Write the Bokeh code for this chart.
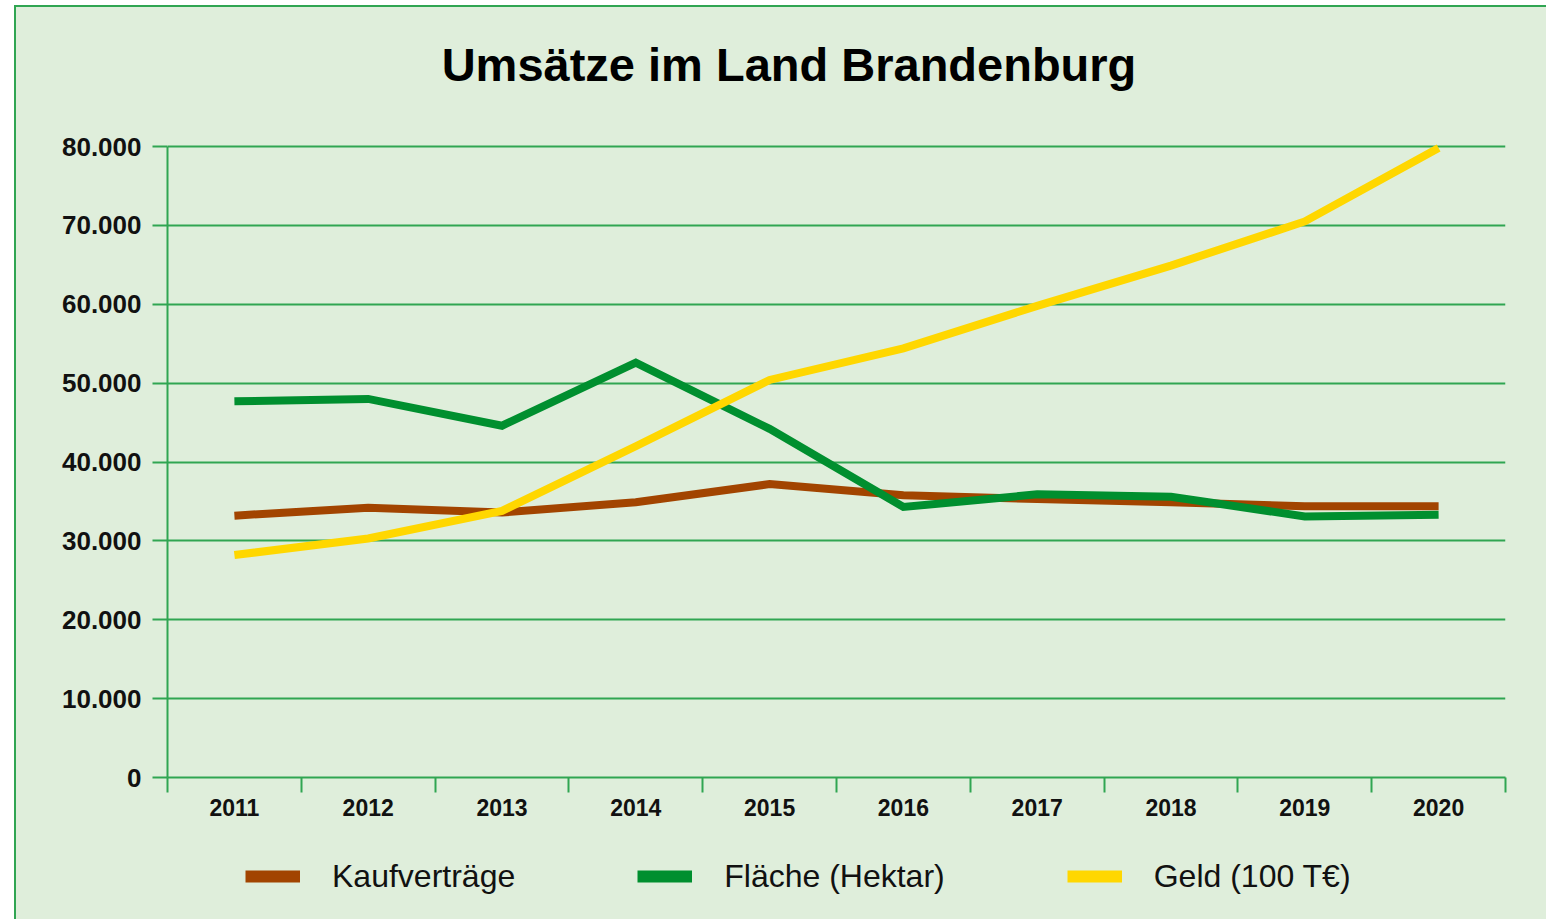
from bokeh.plotting import figure
from bokeh.layouts import column
from bokeh.models import Range1d, FixedTicker, Legend, LegendItem, ColumnDataSource, Label
from bokeh.embed import file_html
from bokeh.resources import INLINE

# ---- data ----
years = [2011, 2012, 2013, 2014, 2015, 2016, 2017, 2018, 2019, 2020]
kaufvertraege = [33200, 34200, 33600, 34900, 37200, 35800, 35300, 34900, 34400, 34400]
flaeche = [47700, 48000, 44600, 52600, 44200, 34300, 35900, 35600, 33100, 33300]
geld = [28200, 30300, 33800, 42000, 50400, 54400, 59800, 64900, 70500, 79800]

y_ticks = [0, 10000, 20000, 30000, 40000, 50000, 60000, 70000, 80000]
y_tick_labels = ["0", "10.000", "20.000", "30.000", "40.000", "50.000", "60.000", "70.000", "80.000"]

series_names = ["Kaufverträge", "Fläche (Hektar)", "Geld (100 T€)"]
series_colors = ["#a24400", "#008f2f", "#ffd700"]

title_text = "Umsätze im Land Brandenburg"

BG = "#dfeedb"
GRID = "#30a552"
FONT = "Liberation Sans"

src = ColumnDataSource(dict(year=years, k=kaufvertraege, f=flaeche, g=geld))
cols = ["k", "f", "g"]

# ---------------- main chart ----------------
p = figure(
    width=1530, height=825, title=None,
    output_backend="svg", toolbar_location=None,
    x_range=Range1d(years[0] - 0.5, years[-1] + 0.5),
    y_range=Range1d(0, 96990),          # headroom above 80.000 holds the title
    min_border_left=151, min_border_right=41,
    min_border_top=5, min_border_bottom=55,
)
p.background_fill_alpha = 0
p.border_fill_color = BG
p.outline_line_color = None

# grid
p.xgrid.visible = False
p.ygrid.ticker = FixedTicker(ticks=y_ticks)
p.ygrid.grid_line_color = GRID
p.ygrid.grid_line_width = 2

# y axis
ya = p.yaxis[0]
ya.ticker = FixedTicker(ticks=y_ticks)
ya.major_label_overrides = {t: l for t, l in zip(y_ticks, y_tick_labels)}
ya.bounds = (0, 80000)
ya.axis_line_color = GRID
ya.axis_line_width = 2
ya.major_tick_line_color = GRID
ya.major_tick_line_width = 2
ya.major_tick_out = 15
ya.major_tick_in = 0
ya.minor_tick_line_color = None
ya.major_label_standoff = 11
ya.major_label_text_font = FONT
ya.major_label_text_font_style = "bold"
ya.major_label_text_font_size = "26px"
ya.major_label_text_color = "#111111"

# x axis: labels at year centres, tick marks at category boundaries
xa = p.xaxis[0]
xa.ticker = FixedTicker(ticks=years, minor_ticks=[y - 0.5 for y in years] + [years[-1] + 0.5])
xa.axis_line_color = GRID
xa.axis_line_width = 2
xa.major_tick_line_color = None
xa.major_tick_out = 0
xa.major_tick_in = 0
xa.minor_tick_line_color = GRID
xa.minor_tick_line_width = 2
xa.minor_tick_out = 15
xa.minor_tick_in = 0
xa.major_label_standoff = 6
xa.major_label_text_font = FONT
xa.major_label_text_font_style = "bold"
xa.major_label_text_font_size = "23px"
xa.major_label_text_color = "#111111"

# lines
for col, color in zip(cols, series_colors):
    p.line("year", col, source=src, line_color=color, line_width=8,
           line_join="miter", line_cap="butt")

# title
p.add_layout(Label(
    x=621.5, y=713, x_units="screen", y_units="screen",
    text=title_text, text_align="center", text_baseline="alphabetic",
    text_font=FONT, text_font_style="bold",
    text_font_size="47px", text_color="#000000",
))

# ---------------- legend strip ----------------
p2 = figure(
    width=1530, height=87, title=None,
    output_backend="svg", toolbar_location=None,
    x_axis_location=None, y_axis_location=None,
    x_range=Range1d(0, 1), y_range=Range1d(0, 1),
    min_border=0,
)
p2.background_fill_alpha = 0
p2.border_fill_color = BG
p2.outline_line_color = None
p2.grid.visible = False

# same series, out of this strip's view: only their legend swatches show
swatches = [p2.line("year", col, source=src, line_color=c, line_width=12, line_cap="butt")
            for col, c in zip(cols, series_colors)]

legend = Legend(
    items=[LegendItem(label=n, renderers=[r]) for n, r in zip(series_names, swatches)],
    orientation="horizontal",
    location=(78, 21),
    glyph_width=55, glyph_height=44,
    label_standoff=32, spacing=122,
    padding=0, margin=0,
    border_line_color=None, background_fill_alpha=0,
    label_text_font=FONT, label_text_font_size="32px",
    label_text_color="#111111",
)
p2.add_layout(legend)

layout = column(
    p, p2, spacing=0,
    styles={
        "margin-left": "14px", "margin-top": "5px",
        "background-color": BG,
        "border-left": f"2px solid {GRID}", "border-top": f"2px solid {GRID}",
    },
)

open("out.html", "w").write(file_html(layout, INLINE))
